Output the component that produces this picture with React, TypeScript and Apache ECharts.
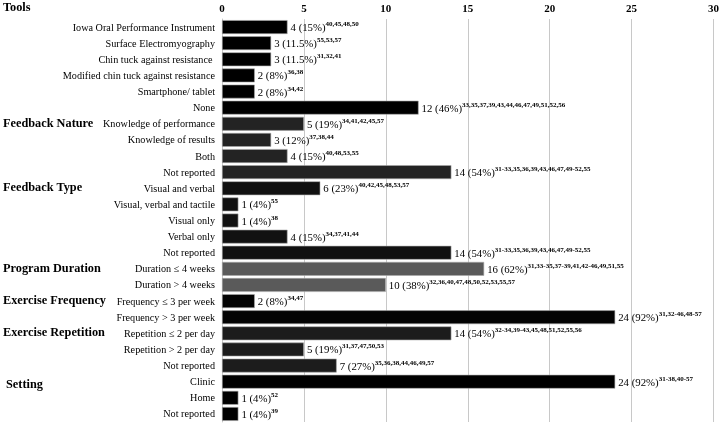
import React, { useEffect, useRef } from "react";
import * as echarts from "echarts";

const categories = [
  "Iowa Oral Performance Instrument",
  "Surface Electromyography",
  "Chin tuck against resistance ",
  "Modified chin tuck against resistance",
  "Smartphone/ tablet",
  "None",
  "Knowledge of performance",
  "Knowledge of results",
  "Both",
  "Not reported",
  "Visual and verbal",
  "Visual, verbal and tactile",
  "Visual only",
  "Verbal only",
  "Not reported",
  "Duration \u2264 4 weeks",
  "Duration > 4 weeks",
  "Frequency \u2264 3 per week",
  "Frequency > 3 per week",
  "Repetition \u2264 2 per day",
  "Repetition > 2 per day",
  "Not reported",
  "Clinic",
  "Home",
  "Not reported",
];

const counts = [4, 3, 3, 2, 2, 12, 5, 3, 4, 14, 6, 1, 1, 4, 14, 16, 10, 2, 24, 14, 5, 7, 24, 1, 1];

const percents = [
  "15%", "11.5%", "11.5%", "8%", "8%", "46%",
  "19%", "12%", "15%", "54%",
  "23%", "4%", "4%", "15%", "54%",
  "62%", "38%",
  "8%", "92%",
  "54%", "19%", "27%",
  "92%", "4%", "4%",
];

const references = [
  "40,45,48,50",
  "55,53,57",
  "31,32,41",
  "36,38",
  "34,42",
  "33,35,37,39,43,44,46,47,49,51,52,56",
  "34,41,42,45,57",
  "37,38,44",
  "40,48,53,55",
  "31-33,35,36,39,43,46,47,49-52,55",
  "40,42,45,48,53,57",
  "55",
  "38",
  "34,37,41,44",
  "31-33,35,36,39,43,46,47,49-52,55",
  "31,33-35,37-39,41,42-46,49,51,55",
  "32,36,40,47,48,50,52,53,55,57",
  "34,47",
  "31,32-46,48-57",
  "32-34,39-43,45,48,51,52,55,56",
  "31,37,47,50,53",
  "35,36,38,44,46,49,57",
  "31-38,40-57",
  "52",
  "39",
];

// groups: header text, first row index, row count, bar colour
const groupNames = ["Tools", "Feedback Nature", "Feedback Type", "Program Duration", "Exercise Frequency", "Exercise Repetition", "Setting"];
const groupStarts = [0, 6, 10, 15, 17, 19, 22];
const groupSizes = [6, 4, 5, 2, 2, 3, 3];
const groupColors = ["#000000", "#232323", "#111111", "#5a5a5a", "#030303", "#1c1c1c", "#000000"];

const xTicks = [0, 30, 5];

const FONT = "'Liberation Serif', 'Times New Roman', serif";

export default function App() {
  const ref = useRef<HTMLDivElement>(null);
  useEffect(() => {
    if (!ref.current) return;
    const chart = echarts.init(ref.current, undefined, { renderer: "svg" });
    const rowColor: string[] = [];
    groupStarts.forEach((s, g) => {
      for (let i = 0; i < groupSizes[g]; i++) rowColor[s + i] = groupColors[g];
    });
    const ids = categories.map((_, i) => String(i));
    chart.setOption({
      animation: false,
      grid: { left: 222, right: 7, top: 19, bottom: 1, containLabel: false },
      xAxis: {
        type: "value",
        position: "top",
        min: xTicks[0],
        max: xTicks[1],
        interval: xTicks[2],
        axisLine: { show: false },
        axisTick: { show: false },
        axisLabel: { fontFamily: FONT, fontSize: 11, fontWeight: "bold", color: "#000", margin: 6 },
        splitLine: { show: true, lineStyle: { color: "#c8c8c8", width: 1 } },
      },
      yAxis: {
        type: "category",
        inverse: true,
        data: ids,
        axisLine: { show: true, lineStyle: { color: "#c8c8c8" } },
        axisTick: { show: false },
        axisLabel: {
          fontFamily: FONT,
          fontSize: 10.2,
          color: "#000",
          margin: 7,
          interval: 0,
          formatter: (_v: string, idx: number) => categories[idx],
        },
      },
      series: [
        {
          type: "bar",
          barCategoryGap: "14%",
          data: counts.map((c, i) => ({
            value: c,
            itemStyle: { color: rowColor[i], borderColor: "#aaaaaa", borderWidth: 0.6 },
          })),
          label: {
            show: true,
            position: "right",
            distance: 3,
            formatter: (p: any) => `{v|${counts[p.dataIndex]} (${percents[p.dataIndex]})}{s|${references[p.dataIndex]}}`,
            rich: {
              v: { fontFamily: FONT, fontSize: 10.8, color: "#000", lineHeight: 14 },
              s: { fontFamily: FONT, fontSize: 7, fontWeight: "bold", color: "#000", padding: [0, 0, 6, 0] },
            },
          },
        },
      ],
    });
    const bandCenter = (i: number) => chart.convertToPixel({ yAxisIndex: 0 }, String(i)) as number;
    const headerOffsets = [0, 0, 0, 0, 0, 0, 3];
    const headerX = [3, 3, 3, 3, 3, 3, 6];
    const graphics = groupNames.map((name, g) => {
      const y = g === 0 ? 8 : bandCenter(groupStarts[g]) + headerOffsets[g];
      return {
        type: "text",
        left: headerX[g],
        top: y - 7,
        style: { text: name, font: `bold 12.3px ${FONT}`, fill: "#000" },
      };
    });
    chart.setOption({ graphic: graphics });
    return () => chart.dispose();
  }, []);
  return <div ref={ref} style={{ width: 722, height: 423, position: "fixed", left: 0, top: 0 }} />;
}
